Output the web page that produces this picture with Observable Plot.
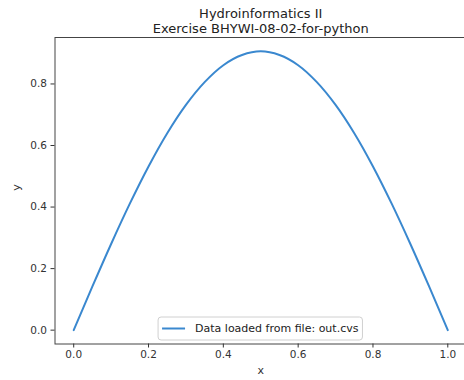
<!DOCTYPE html>
<html>
<head>
<meta charset="utf-8">
<script src="https://cdn.jsdelivr.net/npm/d3@7"></script>
<script src="https://cdn.jsdelivr.net/npm/@observablehq/plot@0.6"></script>
<style>
  html, body { margin: 0; padding: 0; background: #fff; overflow: hidden; }
  #chart svg { display: block; }
</style>
</head>
<body>
<div id="chart"></div>
<script>
const titleLines = ["Hydroinformatics II", "Exercise BHYWI-08-02-for-python"];
const xLabel = "x";
const yLabel = "y";
const legendLabel = "Data loaded from file: out.cvs";

const xValues = [0, 0.05, 0.1, 0.15, 0.2, 0.25, 0.3, 0.35, 0.4, 0.45, 0.5,
                 0.55, 0.6, 0.65, 0.7, 0.75, 0.8, 0.85, 0.9, 0.95, 1.0];
const yValues = [0, 0.142, 0.280, 0.411, 0.532, 0.640, 0.732, 0.806, 0.861, 0.894, 0.906,
                 0.894, 0.861, 0.806, 0.732, 0.640, 0.532, 0.411, 0.280, 0.142, 0];
const xTicks = [0, 0.2, 0.4, 0.6, 0.8, 1.0];
const yTicks = [0, 0.2, 0.4, 0.6, 0.8];

const data = xValues.map((x, i) => ({x, y: yValues[i]}));
const lineColor = "#3a88cf";

const plot = Plot.plot({
  width: 464,
  height: 380,
  marginLeft: 54.5,
  marginRight: -2,
  marginTop: 37,
  marginBottom: 36.5,
  style: {fontFamily: "DejaVu Sans", fontSize: "10.5px", color: "#333", background: "#fff"},
  x: {domain: [-0.05, 1.05]},
  y: {domain: [-0.045, 0.951]},
  marks: [
    Plot.frame({stroke: "#444", strokeWidth: 1}),
    Plot.axisX({ticks: xTicks, tickFormat: d3.format(".1f"), tickSize: 4, tickPadding: 3,
                label: null}),
    Plot.axisY({ticks: yTicks, tickFormat: d3.format(".1f"), tickSize: 4, tickPadding: 4,
                label: null}),
    Plot.line(data, {x: "x", y: "y", stroke: lineColor, strokeWidth: 2, curve: "catmull-rom"}),
    Plot.text([xLabel], {frameAnchor: "bottom", text: d => d, dy: 30, fontSize: 11, fill: "#333"}),
    Plot.text([yLabel], {frameAnchor: "left", text: d => d, dx: -39, rotate: -90, fontSize: 11, fill: "#333"}),
    Plot.text([titleLines[0]], {frameAnchor: "top", text: d => d, dy: -29, fontSize: 13, fill: "#222"}),
    Plot.text([titleLines[1]], {frameAnchor: "top", text: d => d, dy: -13.5, fontSize: 13, fill: "#222"})
  ]
});
document.getElementById("chart").appendChild(plot);

// Legend (lower center, inside the axes)
const svg = d3.select(plot);
const xs = plot.scale("x"), ys = plot.scale("y");
const cx = (xs.range[0] + xs.range[1]) / 2;
const bottom = ys.range[0];
const g = svg.append("g").attr("font-family", "DejaVu Sans").attr("font-size", 11)
  .attr("text-anchor", "start");
const txt = g.append("text").attr("fill", "#222").attr("text-anchor", "start").attr("dy", "0.35em").text(legendLabel);
const tw = txt.node().getComputedTextLength();
const boxW = 37 + tw + 4;
const boxH = 23;
const bx = cx - boxW / 2, by = bottom - 3.5 - boxH;
g.insert("rect", "text").attr("x", bx).attr("y", by).attr("width", boxW).attr("height", boxH)
  .attr("rx", 3).attr("fill", "#fff").attr("stroke", "#d0d0d0");
g.append("line").attr("x1", bx + 4).attr("x2", bx + 27).attr("y1", by + boxH / 2).attr("y2", by + boxH / 2)
  .attr("stroke", lineColor).attr("stroke-width", 2);
txt.attr("x", bx + 37).attr("y", by + boxH / 2);
</script>
</body>
</html>
